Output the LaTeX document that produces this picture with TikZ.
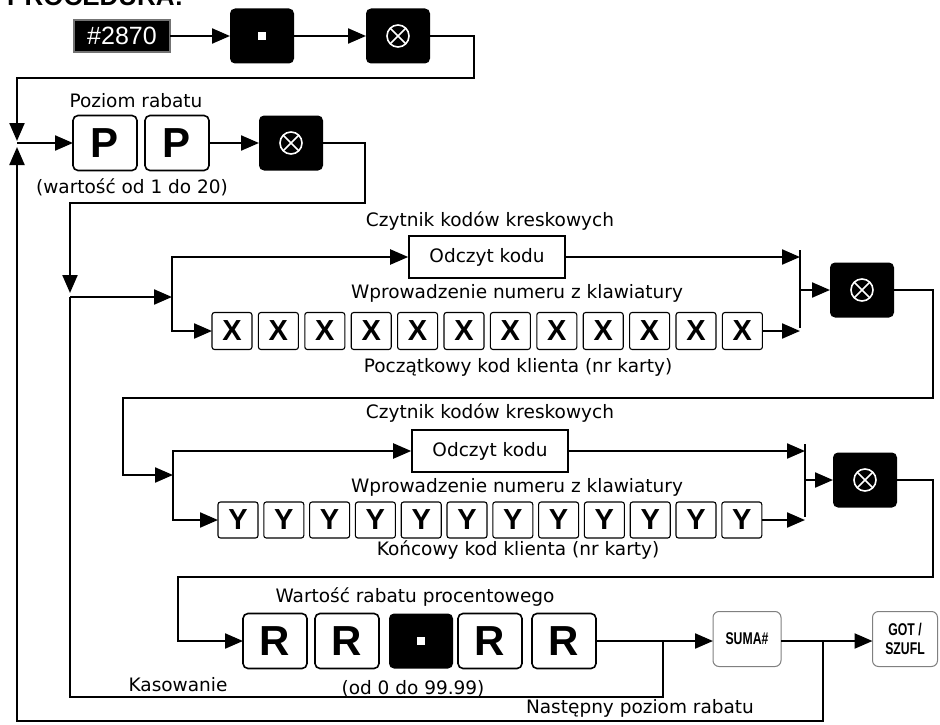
\documentclass[tikz,border=0pt]{standalone}
\usepackage{fontspec}
\setmainfont{DejaVu Sans}
\newfontfamily\keyfont{Liberation Sans}
\newfontfamily\funcfont[FakeStretch=0.72]{Liberation Sans}
\usetikzlibrary{arrows.meta,calc}
\tikzset{
 flow line/.style={line width=2.2pt},
 flow arrow/.style={flow line,-{Triangle[length=18pt,width=15pt]}},
 flow label/.style={font=\fontsize{18.5}{21}\selectfont,inner sep=0pt},
 flow box/.style={draw,line width=1.6pt,minimum width=156pt,minimum height=42pt,
                  inner sep=0pt,font=\fontsize{18.5}{21}\selectfont},
 kbd key/.style={draw,line width=1.6pt,rounded corners=5pt,minimum width=64pt,
                 minimum height=55pt,inner sep=0pt,outer sep=0pt,
                 font=\keyfont\bfseries\fontsize{42}{42}\selectfont},
 kbd digit/.style={kbd key,line width=1.1pt,rounded corners=2.5pt,minimum width=40pt,
                 minimum height=37pt,font=\keyfont\bfseries\fontsize{29}{29}\selectfont},
 kbd black/.style={fill=black,rounded corners=5pt,minimum width=64pt,
                 minimum height=55pt,inner sep=0pt,outer sep=0pt},
 kbd dot/.style={kbd black,path picture={
     \fill[white,sharp corners] ($(path picture bounding box.center)+(-4pt,-4pt)$)
       rectangle ++(8pt,8pt);}},
 kbd enter/.style={kbd black,path picture={
     \draw[white,line width=1.6pt] (path picture bounding box.center) circle[radius=11pt];
     \draw[white,line width=1.6pt]
       ($(path picture bounding box.center)+(-7.6pt,-7.6pt)$) -- ++(15.2pt,15.2pt)
       ($(path picture bounding box.center)+(-7.6pt,7.6pt)$) -- ++(15.2pt,-15.2pt);}},
 kbd code/.style={fill=black,draw=black!55,line width=2.2pt,minimum width=96pt,
                 minimum height=32pt,inner sep=0pt,outer sep=0pt,text=white,
                 font=\keyfont\fontsize{25}{25}\selectfont},
 kbd func/.style={draw=black!50,line width=1pt,rounded corners=6pt,minimum width=68pt,
                 minimum height=55pt,inner sep=0pt,outer sep=0pt,align=center,
                 font=\funcfont\bfseries\fontsize{17}{19}\selectfont}
}
\begin{document}
\begin{tikzpicture}[x=1pt,y=-1pt]
 \useasboundingbox (0,0) rectangle (940,725);
 \node[anchor=base west,inner sep=0pt,font=\keyfont\bfseries\fontsize{26}{26}\selectfont]
   (title) at (7,6) {PROCEDURA:};
 % wejscie w procedure
 \node[kbd code] (k2870) at (122,36) {\#2870};
 \node[kbd dot] (kdotA) at (262,36) {};
 \node[kbd enter] (kentA) at (398,36) {};
 \draw[flow arrow] (k2870) -- (kdotA);
 \draw[flow arrow] (kdotA) -- (kentA);
 % poziom rabatu
 \coordinate (jA) at (17,143);
 \draw[flow arrow] (kentA.east) -| (474,78) -| ($(jA)+(0,-2)$);
 \node[kbd key] (kP1) at (105,143) {P};
 \node[kbd key] (kP2) at (177,143) {P};
 \node[kbd enter] (kentB) at (291,143) {};
 \node[flow label] (lpoz) at (136,101) {Poziom rabatu};
 \node[flow label] (lwart) at (132,187) {(wartość od 1 do 20)};
 \draw[flow arrow] (jA) -- (kP1);
 \draw[flow arrow] (kP2) -- (kentB);
 % kod poczatkowy
 \coordinate (jB) at (70,297);
 \coordinate (sA) at (172,297);
 \coordinate (mA) at (800,290);
 \draw[flow arrow] (kentB.east) -| (365,203) -| ($(jB)+(0,-4)$);
 \draw[flow arrow] (jB) -- (sA);
 \node[flow label] (lczA) at (490,221) {Czytnik kodów kreskowych};
 \node[flow box] (odczA) at (487,257) {Odczyt kodu};
 \node[flow label] (lwprA) at (517,293) {Wprowadzenie numeru z klawiatury};
 \node[flow label] (lpocz) at (518,367) {Początkowy kod klienta (nr karty)};
 \foreach \i in {1,...,12}{
   \node[kbd digit] (kX\i) at ({232+46.4*(\i-1)},331) {X};
 }
 \draw[flow arrow] (sA) |- (odczA);
 \draw[flow arrow] (sA) |- (kX1);
 \draw[flow arrow] (odczA) -- (odczA -| mA);
 \draw[flow arrow] (kX12) -- (kX12 -| mA);
 \draw[flow line] ($(odczA -| mA)+(0,-7)$) -- ($(kX12 -| mA)+(0,-3)$);
 \node[kbd enter] (kentC) at (862,290) {};
 \draw[flow arrow] (mA) -- (kentC);
 % kod koncowy
 \coordinate (sB) at (173,475);
 \coordinate (mB) at (805,480);
 \draw[flow arrow] (kentC.east) -| (933,398) -| (123,475) -- (sB);
 \node[flow label] (lczB) at (490,413) {Czytnik kodów kreskowych};
 \node[flow box] (odczB) at (490,451) {Odczyt kodu};
 \node[flow label] (lwprB) at (517,487) {Wprowadzenie numeru z klawiatury};
 \node[flow label] (lkonc) at (518,550) {Końcowy kod klienta (nr karty)};
 \foreach \i in {1,...,12}{
   \node[kbd digit,minimum height=36pt] (kY\i) at ({238+45.8*(\i-1)},520) {Y};
 }
 \draw[flow arrow] (sB) |- (odczB);
 \draw[flow arrow] (sB) |- (kY1);
 \draw[flow arrow] (odczB) -- (odczB -| mB);
 \draw[flow arrow] (kY12) -- (kY12 -| mB);
 \draw[flow line] ($(odczB -| mB)+(0,-7)$) -- ($(kY12 -| mB)+(0,-3)$);
 \node[kbd enter] (kentD) at (865,480) {};
 \draw[flow arrow] (mB) -- (kentD);
 % wartosc rabatu
 \node[flow label] (lwartR) at (415,597) {Wartość rabatu procentowego};
 \node[kbd key] (kR1) at (275,641) {R};
 \node[kbd key] (kR2) at (347,641) {R};
 \node[kbd dot] (kdotB) at (421,641) {};
 \node[kbd key] (kR3) at (490,641) {R};
 \node[kbd key] (kR4) at (564,641) {R};
 \node[flow label] (lzakr) at (413,689) {(od 0 do 99.99)};
 \node[kbd func] (ksuma) at (747,639) {SUMA\#};
 \node[kbd func,minimum width=65pt] (kgot) at (905,639) {GOT /\\SZUFL};
 \draw[flow arrow] (kentD.east) -| (933,577) -| (178,641) -- (kR1);
 \draw[flow arrow] (kR4.east) -- (ksuma.west |- kR4);
 \draw[flow arrow] (ksuma.east |- kR4) -- (kgot.west |- kR4);
 % powroty
 \coordinate (bK) at (663,641);
 \coordinate (bN) at (823,641);
 \draw[flow line] (bK) |- (70,697) -- (jB);
 \draw[flow arrow] (bN) |- (17,721) -- ($(jA)+(0,4)$);
 \node[flow label] (lkas) at (178,685) {Kasowanie};
 \node[flow label] (lnast) at (640,708) {Następny poziom rabatu};
\end{tikzpicture}
\end{document}
